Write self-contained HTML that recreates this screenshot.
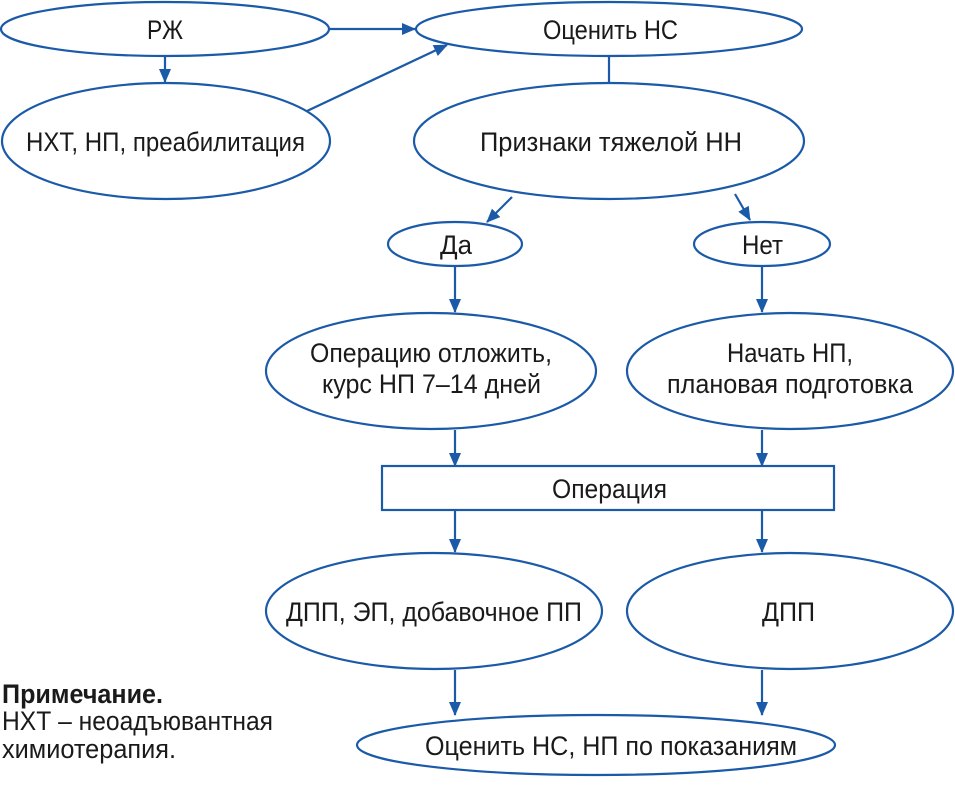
<!DOCTYPE html>
<html><head><meta charset="utf-8"><style>
html,body{margin:0;padding:0;background:#fff;}
svg{display:block;}
text{font-family:"Liberation Sans Narrow","Liberation Sans",sans-serif;font-size:27px;fill:#1a1a1a;}
</style></head><body>
<svg width="955" height="785" viewBox="0 0 955 785" xmlns="http://www.w3.org/2000/svg">
<defs><marker id="a" markerWidth="14" markerHeight="14" refX="13" refY="7" orient="auto" markerUnits="userSpaceOnUse" viewBox="0 0 14 14"><path d="M0,1 L14,7 L0,13 z" fill="#1a5aa8"/></marker></defs>
<g fill="none" stroke="#1a5aa8" stroke-width="2.2">
<ellipse cx="165" cy="29" rx="164" ry="27"/>
<ellipse cx="609" cy="29" rx="193" ry="27"/>
<ellipse cx="166" cy="141" rx="164" ry="58"/>
<ellipse cx="609" cy="141" rx="195" ry="58"/>
<ellipse cx="455" cy="244" rx="67" ry="22"/>
<ellipse cx="762" cy="244" rx="68" ry="22"/>
<ellipse cx="431" cy="371" rx="165" ry="58"/>
<ellipse cx="790" cy="371" rx="163" ry="58"/>
<rect x="382" y="466" width="452" height="44"/>
<ellipse cx="434" cy="611" rx="168" ry="58"/>
<ellipse cx="790" cy="611" rx="163" ry="58"/>
<ellipse cx="596" cy="745" rx="239" ry="30"/>
<line x1="609" y1="56" x2="609" y2="83"/>
<line x1="330" y1="29" x2="415" y2="29" marker-end="url(#a)"/>
<line x1="165" y1="56" x2="165" y2="82" marker-end="url(#a)"/>
<line x1="307" y1="111" x2="447" y2="45" marker-end="url(#a)"/>
<line x1="512" y1="197" x2="487" y2="222" marker-end="url(#a)"/>
<line x1="735" y1="194" x2="750" y2="220" marker-end="url(#a)"/>
<line x1="455" y1="267" x2="455" y2="312" marker-end="url(#a)"/>
<line x1="762" y1="267" x2="762" y2="312" marker-end="url(#a)"/>
<line x1="455" y1="430" x2="455" y2="466" marker-end="url(#a)"/>
<line x1="762" y1="430" x2="762" y2="466" marker-end="url(#a)"/>
<line x1="455" y1="510" x2="455" y2="552" marker-end="url(#a)"/>
<line x1="762" y1="510" x2="762" y2="552" marker-end="url(#a)"/>
<line x1="455" y1="670" x2="455" y2="715" marker-end="url(#a)"/>
<line x1="762" y1="670" x2="762" y2="715" marker-end="url(#a)"/>
</g>
<text x="147" y="39" textLength="36" lengthAdjust="spacingAndGlyphs">РЖ</text>
<text x="543" y="39" textLength="135" lengthAdjust="spacingAndGlyphs">Оценить НС</text>
<text x="26" y="151" textLength="279" lengthAdjust="spacingAndGlyphs">НХТ, НП, преабилитация</text>
<text x="480" y="151" textLength="262" lengthAdjust="spacingAndGlyphs">Признаки тяжелой НН</text>
<text x="440" y="254" textLength="32" lengthAdjust="spacingAndGlyphs">Да</text>
<text x="742" y="254" textLength="41" lengthAdjust="spacingAndGlyphs">Нет</text>
<text x="310" y="362" textLength="242" lengthAdjust="spacingAndGlyphs">Операцию отложить,</text>
<text x="322" y="393" textLength="219" lengthAdjust="spacingAndGlyphs">курс НП 7–14 дней</text>
<text x="727" y="362" textLength="126" lengthAdjust="spacingAndGlyphs">Начать НП,</text>
<text x="667" y="393" textLength="246" lengthAdjust="spacingAndGlyphs">плановая подготовка</text>
<text x="552" y="498" textLength="115" lengthAdjust="spacingAndGlyphs">Операция</text>
<text x="286" y="621" textLength="296" lengthAdjust="spacingAndGlyphs">ДПП, ЭП, добавочное ПП</text>
<text x="762" y="621" textLength="53" lengthAdjust="spacingAndGlyphs">ДПП</text>
<text x="425" y="755" textLength="372" lengthAdjust="spacingAndGlyphs">Оценить НС, НП по показаниям</text>
<text x="2" y="703" textLength="161" lengthAdjust="spacingAndGlyphs" style="font-weight:bold">Примечание.</text>
<text x="2" y="730" textLength="271" lengthAdjust="spacingAndGlyphs">НХТ – неоадъювантная</text>
<text x="2" y="758" textLength="174" lengthAdjust="spacingAndGlyphs">химиотерапия.</text>
</svg>
</body></html>
